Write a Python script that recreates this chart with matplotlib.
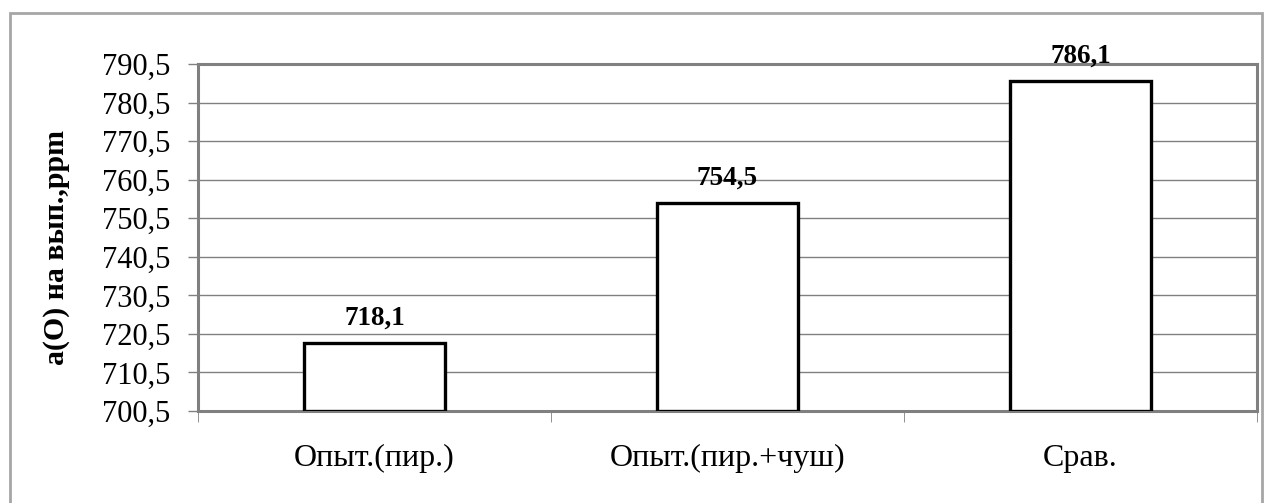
import matplotlib.pyplot as plt
from matplotlib.patches import Rectangle

plt.rcParams['font.family'] = ['Liberation Serif', 'DejaVu Serif']

# данные
categories = ["Опыт.(пир.)", "Опыт.(пир.+чуш)", "Срав."]
values = [718.1, 754.5, 786.1]
value_labels = ["718,1", "754,5", "786,1"]
yticks = [700.5, 710.5, 720.5, 730.5, 740.5, 750.5, 760.5, 770.5, 780.5, 790.5]

W, H = 1266, 503
fig = plt.figure(figsize=(W / 100, H / 100), dpi=100)
ax = fig.add_axes([198 / W, 1 - 411 / H, (1257 - 198) / W, (411 - 64) / H])

# внешняя рамка
fig.patches.append(Rectangle((10 / W, -0.05), (1262 - 10) / W, 1 - 13 / H + 0.05,
                             transform=fig.transFigure, fill=False,
                             edgecolor="#a6a6a6", linewidth=2))

x = range(len(categories))
ax.bar(x, [v - 700.5 for v in values], bottom=700.5, width=0.4,
       color="white", edgecolor="black", linewidth=2.4, zorder=3)

for i, (v, lab) in enumerate(zip(values, value_labels)):
    ax.annotate(lab, (i, v), xytext=(0, 9), textcoords="offset points",
                ha="center", va="bottom", fontsize=19.5, fontweight="bold")

ax.set_xlim(-0.5, 2.5)
ax.set_ylim(700.5, 790.5)
ax.set_yticks(yticks)
ax.set_yticklabels([f"{t:.1f}".replace(".", ",") for t in yticks], fontsize=22)
ax.set_xticks(list(x))
ax.set_xticklabels(categories, fontsize=23)
ax.tick_params(axis="x", length=0, pad=24)
ax.tick_params(axis="y", length=7, width=1, color="#808080", pad=13)
ax.set_xticks([-0.5, 0.5, 1.5, 2.5], minor=True)
ax.tick_params(axis="x", which="minor", length=8, color="#808080", direction="out")

ax.grid(axis="y", color="#808080", linewidth=1)
ax.set_axisbelow(True)
for s in ax.spines.values():
    s.set_color("#808080")
    s.set_linewidth(2.2)

ax.set_ylabel("а(О) на вып.,ppm", fontsize=21.5, fontweight="bold")
ax.yaxis.set_label_coords(-128 / (1257 - 198), 0.47)

fig.savefig("out.png", dpi=100)
